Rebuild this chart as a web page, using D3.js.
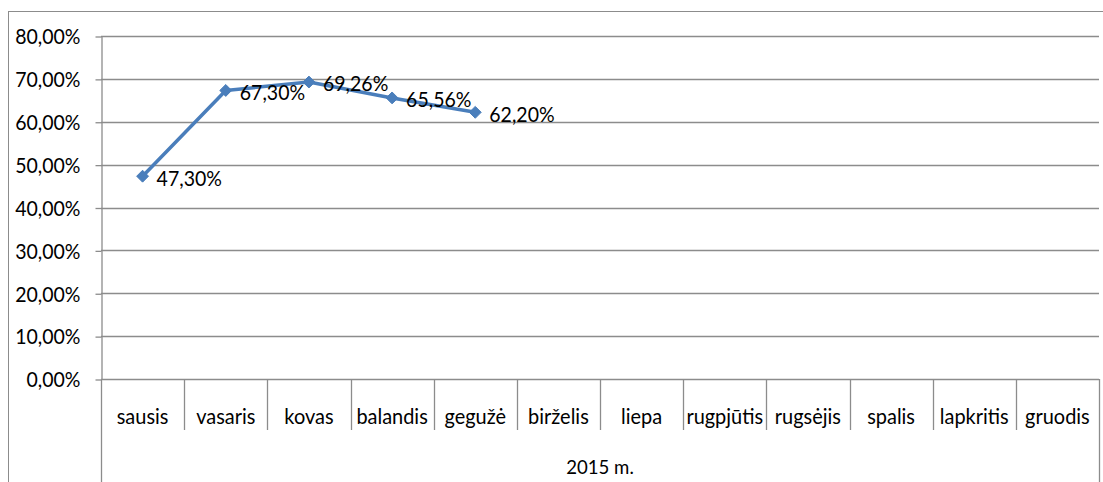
<!DOCTYPE html>
<html><head><meta charset="utf-8">
<script src="https://cdn.jsdelivr.net/npm/d3@7"></script>
<style>
html,body{margin:0;padding:0;background:#fff;}
svg text{font-family:Lato,"Liberation Sans",sans-serif;fill:#000;}
</style></head><body>
<svg id="c" width="1103" height="482"></svg>
<script>
const months = ["sausis","vasaris","kovas","balandis","gegužė","birželis","liepa","rugpjūtis","rugsėjis","spalis","lapkritis","gruodis"];
const values = [47.30, 67.30, 69.26, 65.56, 62.20];
const yTicks = [0,10,20,30,40,50,60,70,80];
const groupLabel = "2015 m.";

const svg = d3.select("#c");
const L = 101, R = 1099, T = 36, B = 379;
const x = d3.scaleBand().domain(months).range([L, R]).padding(0);
const y = d3.scaleLinear().domain([0, 80]).range([B, T]);
const fmt = v => v.toFixed(2).replace(".", ",") + "%";
const gridC = "#8c8c8c";
const SX = 0.93;

// outer border
svg.append("rect").attr("x",8.5).attr("y",11.5).attr("width",1110).attr("height",500)
  .attr("fill","none").attr("stroke","#8c8c8c").attr("stroke-width",1);

// gridlines
svg.append("g").selectAll("line").data(yTicks.filter(d=>d>0)).join("line")
  .attr("x1",L).attr("x2",R).attr("y1",d=>Math.round(y(d))+0.5).attr("y2",d=>Math.round(y(d))+0.5)
  .attr("stroke",gridC).attr("stroke-width",1.3);

// y axis
const yAxis = d3.axisLeft(y).tickValues(yTicks).tickFormat(fmt).tickSize(6).tickSizeOuter(0);
const yg = svg.append("g").attr("transform",`translate(${L+0.5},0.5)`).call(yAxis);
yg.select(".domain").attr("stroke",gridC).attr("stroke-width",1.3);
yg.selectAll(".tick line").attr("stroke",gridC).attr("stroke-width",1.3);
yg.selectAll(".tick text").attr("font-size",21).attr("x",0).attr("dy","0.35em")
  .attr("transform",`translate(-21,0) scale(${SX},1)`)
  .style("font-family","Lato,'Liberation Sans',sans-serif");

// category axis line
svg.append("line").attr("x1",L).attr("x2",R).attr("y1",B+0.5).attr("y2",B+0.5)
  .attr("stroke",gridC).attr("stroke-width",1.3);

// category dividers
const bounds = months.map(m=>x(m)).concat([R]);
svg.append("g").selectAll("line").data(bounds).join("line")
  .attr("x1",d=>Math.round(d)+0.5).attr("x2",d=>Math.round(d)+0.5)
  .attr("y1",B).attr("y2",(d,i)=> (i===0||i===bounds.length-1)?482:430)
  .attr("stroke",gridC).attr("stroke-width",1.3);

// category labels
svg.append("g").selectAll("text").data(months).join("text")
  .attr("transform",d=>`translate(${x(d)+x.bandwidth()/2},417) scale(0.95,1)`).attr("dy","0.35em")
  .attr("text-anchor","middle").attr("font-size",21).text(d=>d);

svg.append("text").attr("transform",`translate(${(L+R)/2},467) scale(${SX},1)`).attr("dy","0.35em")
  .attr("text-anchor","middle").attr("font-size",20).text(groupLabel);

// line
const pts = values.map((v,i)=>[x(months[i])+x.bandwidth()/2, y(v)]);
svg.append("path").datum(pts).attr("d",d3.line()).attr("fill","none")
  .attr("stroke","#4a7ebb").attr("stroke-width",3.5).attr("stroke-linejoin","round");

svg.append("g").selectAll("path").data(pts).join("path")
  .attr("transform",d=>`translate(${d[0]},${d[1]})`)
  .attr("d",d3.symbol(d3.symbolDiamond2,90)).attr("fill","#4a7ebb").attr("stroke","#4a7ebb");

svg.append("g").selectAll("text").data(values).join("text")
  .attr("transform",(d,i)=>`translate(${pts[i][0]+14},${pts[i][1]+2}) scale(${SX},1)`).attr("dy","0.35em")
  .attr("font-size",21).text(fmt);
</script></body></html>
